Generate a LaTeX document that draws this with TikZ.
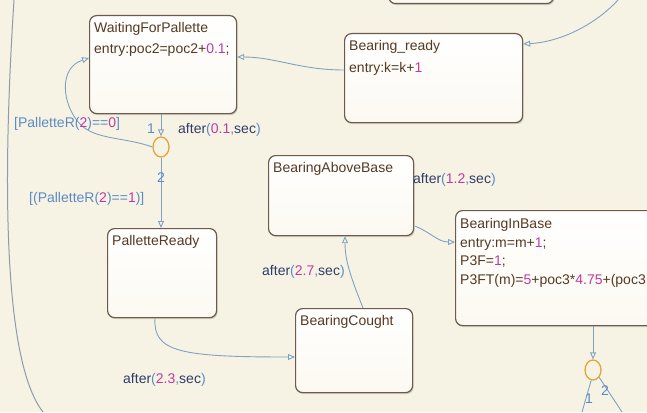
\documentclass[tikz,border=0pt]{standalone}
\usepackage{fontspec}
\setmainfont{Liberation Sans}
\usetikzlibrary{arrows.meta,shapes.geometric,calc,shadows}

\definecolor{bg}{HTML}{F7F3E4}
\definecolor{edgec}{HTML}{7FA2C2}
\definecolor{frame}{HTML}{6C5B4B}
\definecolor{stname}{HTML}{553A22}
\definecolor{num}{HTML}{C23A9E}
\definecolor{guardc}{HTML}{5C8BC4}
\definecolor{navy}{HTML}{2E3D68}
\definecolor{junc}{HTML}{E3A53A}
\definecolor{outerc}{HTML}{8E9BA8}
\definecolor{stbot}{HTML}{FCF9F1}

% coloured pieces of labels
\newcommand{\nv}[1]{\textcolor{num}{#1}}
\newcommand{\gp}[1]{\textcolor{guardc}{#1}}
\newcommand{\aftr}[1]{after\gp{(}\nv{#1}\gp{,}sec\gp{)}}

\tikzset{
  state/.style={draw=frame, line width=1.2pt, rounded corners=7pt,
    top color=white, bottom color=stbot, inner sep=0pt, anchor=north west,
    drop shadow={shadow xshift=1pt, shadow yshift=-1.5pt, opacity=.35}},
  stext/.style={anchor=base west, inner sep=0pt, text=stname,
    font=\fontsize{14}{17}\selectfont},
  tlabel/.style={anchor=base west, inner sep=0pt, text=navy,
    font=\fontsize{14}{17}\selectfont},
  glabel/.style={anchor=base west, inner sep=0pt, text=guardc,
    font=\fontsize{14}{17}\selectfont},
  conn/.style={draw=edgec, line width=0.9pt,
    -{Triangle[open, length=7pt, width=6pt]}},
  plain/.style={draw=edgec, line width=0.9pt},
  junction/.style={ellipse, draw=junc, line width=1.3pt, inner sep=0pt,
    minimum width=16pt, minimum height=20pt, fill=bg},
}

\begin{document}
\begin{tikzpicture}[x=1pt, y=-1pt]
\useasboundingbox (0,0) rectangle (647,412);
\fill[bg] (0,0) rectangle (647,412);
\clip (0,0) rectangle (647,412);

% enclosing superstate border on the left
\coordinate (la) at (14,0);
\coordinate (lb) at (43,412);
\draw[outerc, line width=1pt] (la) .. controls (3,170) and (2,360) .. (lb);

% states
\node[state, minimum width=165pt, minimum height=63pt] (top) at (388,-60) {};
\node[state, minimum width=147pt, minimum height=98pt] (wfp) at (89,15) {};
\node[state, minimum width=178pt, minimum height=89pt] (brd) at (344,33) {};
\node[state, minimum width=145pt, minimum height=80pt] (bab) at (268,155) {};
\node[state, minimum width=230pt, minimum height=115pt] (bib) at (455,210) {};
\node[state, minimum width=109pt, minimum height=89pt] (prd) at (107,228) {};
\node[state, minimum width=117pt, minimum height=84pt] (bco) at (295,308) {};

% state texts
\node[stext] (wfp1) at ($(wfp.north west)+(5,18)$) {WaitingForPallette};
\node[stext] (wfp2) at ($(wfp.north west)+(5,38)$) {entry:poc2=poc2+\nv{0.1};};
\node[stext] (brd1) at ($(brd.north west)+(5,18)$) {Bearing\_ready};
\node[stext] (brd2) at ($(brd.north west)+(5,39)$) {entry:k=k+\nv{1}};
\node[stext] (bab1) at ($(bab.north west)+(5,17)$) {BearingAboveBase};
\node[stext] (bib1) at ($(bib.north west)+(5,18)$) {BearingInBase};
\node[stext] (bib2) at ($(bib.north west)+(5,37)$) {entry:m=m+\nv{1};};
\node[stext] (bib3) at ($(bib.north west)+(5,55.5)$) {P3F=\nv{1};};
\node[stext] (bib4) at ($(bib.north west)+(5,74)$) {P3FT(m)=\nv{5}+poc3*\nv{4.75}+(poc3};
\node[stext] (prd1) at ($(prd.north west)+(5,17)$) {PalletteReady};
\node[stext] (bco1) at ($(bco.north west)+(5,17)$) {BearingCought};

% junctions
\node[junction] (j1) at (161,147) {};
\node[junction] (j2) at (593,370) {};

% transitions
\coordinate (trin) at (618,0);
\draw[conn] (trin) .. controls (595,25) and (560,42) .. ($(brd.north east)+(0,11)$);
\draw[conn] ($(brd.north west)+(0,37)$) .. controls (300,70) and (275,57) .. ($(wfp.north east)+(0,42)$);
\draw[conn] (j1 |- wfp.south) -- (j1.north);
\draw[conn] (j1.west) .. controls (125,137) and (95,140) .. (80,124)
   .. controls (62,105) and (58,68) .. ($(wfp.north west)+(0,43)$);
\draw[conn] (j1.south) -- (j1 |- prd.north);
\draw[conn] ($(prd.south west)+(48,0)$) .. controls (153,352) and (180,357) .. ($(bco.north west)+(0,49)$);
\draw[conn] ($(bco.north west)+(68,0)$) .. controls (352,280) and (345,262) .. ($(bab.south west)+(77,0)$);
\draw[conn] ($(bab.south east)+(1,-10)$) .. controls (430,232) and (438,242) .. ($(bib.north west)+(0,32)$);
\draw[conn] (j2 |- bib.south) -- (j2.north);
\coordinate (o1) at (582,412);
\coordinate (o2) at (622,412);
\draw[plain] (j2.-100) -- (o1);
\draw[plain] (j2.-50) -- (o2);

% transition labels
\node[glabel] (l1a) at (147,133) {1};
\node[tlabel] (la1) at (178,133) {\aftr{0.1}};
\node[glabel] (g0) at (14,127) {[PalletteR(\nv{2})==\nv{0}]};
\node[glabel] (l2a) at (157,182) {2};
\node[glabel] (g1) at (29,202) {[(PalletteR(\nv{2})==\nv{1})]};
\node[tlabel] (la12) at (413,183) {\aftr{1.2}};
\node[tlabel] (la27) at (262,275) {\aftr{2.7}};
\node[tlabel] (la23) at (123,383) {\aftr{2.3}};
\node[glabel] (l1b) at (585,403) {1};
\node[glabel] (l2b) at (601,395) {2};
\end{tikzpicture}
\end{document}
